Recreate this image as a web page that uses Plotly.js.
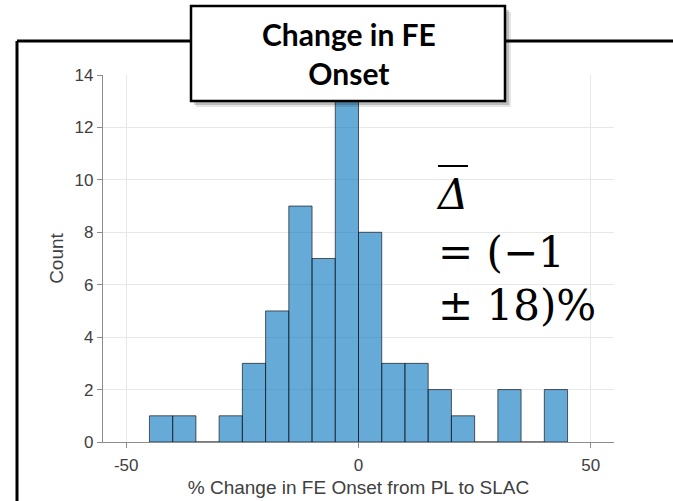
<!DOCTYPE html>
<html>
<head>
<meta charset="utf-8">
<script src="https://cdn.plot.ly/plotly-3.0.1.min.js"></script>
<style>html,body{margin:0;padding:0;background:#fff;}#chart{width:673px;height:501px;}</style>
</head>
<body>
<div id="chart"></div>
<script>
// Histogram bins (width 5) and counts
const binCenters = [-42.5, -37.5, -32.5, -27.5, -22.5, -17.5, -12.5, -7.5, -2.5, 2.5, 7.5, 12.5, 17.5, 22.5, 27.5, 32.5, 37.5, 42.5];
const counts     = [1, 1, 0, 1, 3, 5, 9, 7, 13, 8, 3, 3, 2, 1, 0, 2, 0, 2];
const binWidth = 5;
const xTickVals = [-50, 0, 50];
const yTickVals = [0, 2, 4, 6, 8, 10, 12, 14];
const titleText = "<b>Change in FE</b><br><b>Onset</b>";
const xTitle = "% Change in FE Onset from PL to SLAC";
const yTitle = "Count";

// pixel -> paper helpers for decorations
const L = 103, R = 59, T = 75, B = 59, W = 673, H = 501;
const pw = W - L - R, ph = H - T - B;
const xp = px => (px - L) / pw;
const yp = py => (H - B - py) / ph;

const trace = {
  type: 'bar',
  x: binCenters,
  y: counts,
  width: binCenters.map(() => binWidth),
  marker: {color: 'rgba(0,114,189,0.6)', line: {color: 'rgba(20,20,20,0.85)', width: 0.8}},
  hoverinfo: 'skip'
};

const shapes = [
  // outer frame
  {type:'line', xref:'paper', yref:'paper', x0:xp(17), x1:xp(690), y0:yp(41), y1:yp(41), line:{color:'#000', width:3}, layer:'above'},
  {type:'line', xref:'paper', yref:'paper', x0:xp(17), x1:xp(17), y0:yp(41), y1:yp(520), line:{color:'#000', width:3}, layer:'above'},
  // title box shadow
  {type:'rect', xref:'paper', yref:'paper', x0:xp(196), x1:xp(511), y0:yp(12), y1:yp(107), fillcolor:'rgba(0,0,0,0.10)', line:{width:0}, layer:'above'},
  {type:'rect', xref:'paper', yref:'paper', x0:xp(194), x1:xp(509), y0:yp(10), y1:yp(105), fillcolor:'rgba(0,0,0,0.18)', line:{width:0}, layer:'above'},
  // title box
  {type:'rect', xref:'paper', yref:'paper', x0:xp(191), x1:xp(505), y0:yp(6), y1:yp(101), fillcolor:'#fff', line:{color:'#000', width:2.5}, layer:'above'},
  // overline on delta
  {type:'line', xref:'paper', yref:'paper', x0:xp(438), x1:xp(468), y0:yp(166), y1:yp(166), line:{color:'#000', width:2}, layer:'above'}
];

const mathFont = {family:'DejaVu Serif, Liberation Serif, serif', size:42, color:'#000'};
const annotations = [
  {xref:'paper', yref:'paper', x:xp(349), y:yp(53), text:titleText, showarrow:false, xanchor:'center', yanchor:'middle',
   font:{family:'Lato, Noto Sans, sans-serif', size:30, color:'#000', weight:'bold'}},
  {xref:'paper', yref:'paper', x:xp(434), y:yp(194), text:'<i>Δ</i>', showarrow:false, xanchor:'left', yanchor:'middle', font:mathFont},
  {xref:'paper', yref:'paper', x:xp(436), y:yp(253), text:'= (−1', showarrow:false, xanchor:'left', yanchor:'middle', font:mathFont},
  {xref:'paper', yref:'paper', x:xp(436), y:yp(305), text:'± 18)%', showarrow:false, xanchor:'left', yanchor:'middle', font:mathFont}
];

const tickFont = {family:'Liberation Sans, Arial, sans-serif', size:17, color:'#404040'};
const titleFont = {family:'Liberation Sans, Arial, sans-serif', size:19, color:'#404040'};
const layout = {
  width: W, height: H,
  margin: {l:L, r:R, t:T, b:B, pad:0},
  paper_bgcolor:'#fff', plot_bgcolor:'#fff',
  showlegend:false,
  bargap:0,
  xaxis: {
    range:[-55, 55], tickvals:xTickVals, ticktext:xTickVals.map(String),
    showgrid:true, gridcolor:'#e8e8e8', gridwidth:1, zeroline:false,
    showline:true, linecolor:'#8c8c8c', linewidth:1.2,
    ticks:'outside', ticklen:5, tickcolor:'#8c8c8c',
    tickfont:tickFont, ticklabelstandoff:2,
    title:{text:xTitle, font:titleFont, standoff:7}
  },
  yaxis: {
    range:[0, 14], tickvals:yTickVals,
    showgrid:true, gridcolor:'#e8e8e8', gridwidth:1, zeroline:false,
    showline:true, linecolor:'#8c8c8c', linewidth:1.2,
    ticks:'outside', ticklen:5, tickcolor:'#8c8c8c',
    tickfont:tickFont,
    title:{text:yTitle, font:titleFont, standoff:5}
  },
  shapes: shapes,
  annotations: annotations
};

Plotly.newPlot('chart', [trace], layout, {staticPlot:true, displayModeBar:false});
</script>
</body>
</html>
